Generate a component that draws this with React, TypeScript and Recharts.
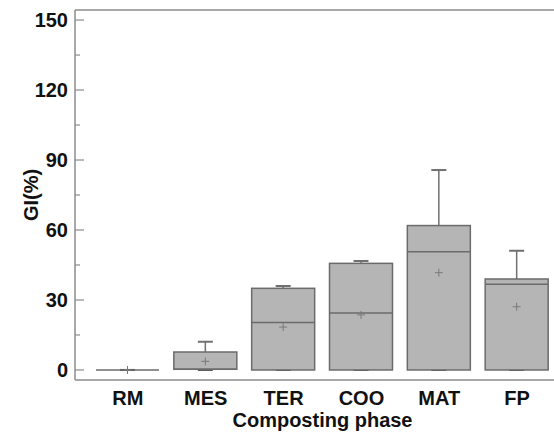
import { Bar, ComposedChart, ReferenceLine, XAxis, YAxis } from "recharts";

const phases = ["RM", "MES", "TER", "COO", "MAT", "FP"];
const mins = [0, 0, 0, 0, 0, 0];
const q1s = [0, 0.3, 0, 0, 0, 0];
const medians = [0, 0.3, 20.4, 24.4, 50.7, 36.7];
const q3s = [0, 7.7, 35, 45.7, 61.9, 39];
const maxs = [0, 12.1, 36, 46.7, 85.7, 51.1];
const means = [0, 3.7, 18.4, 23.6, 41.7, 27.1];

const yTicks = [0, 15, 30, 45, 60, 75, 90, 105, 120, 135, 150];
const yDomain = [-4.3, 154.3];

const data = phases.map((phase, i) => ({
  phase,
  min: mins[i],
  q1: q1s[i],
  median: medians[i],
  q3: q3s[i],
  max: maxs[i],
  mean: means[i],
}));

const axisColor = "#8c8c8c";
const boxFill = "#b5b5b5";
const boxStroke = "#6b6b6b";
const font = "Liberation Sans, Arial, sans-serif";

function BoxShape(props: any) {
  const { x, y, width, height, payload } = props;
  const top = Math.min(y, y + height);
  const h = Math.abs(height);
  const lo = payload.min;
  const hi = payload.max;
  // map a value to pixels from the bar's own range (library scale)
  const pos = (v: number) => (hi === lo ? top : top + ((hi - v) / (hi - lo)) * h);
  const cx = x + width / 2;
  const cap = 7.5;
  const yMax = pos(payload.max);
  const yMin = pos(payload.min);
  const yQ1 = pos(payload.q1);
  const yQ3 = pos(payload.q3);
  const yMed = pos(payload.median);
  const yMean = pos(payload.mean);
  return (
    <g>
      <line x1={cx} x2={cx} y1={yMax} y2={yQ3} stroke="#707070" strokeWidth={1.5} />
      <line x1={cx - cap} x2={cx + cap} y1={yMax} y2={yMax} stroke="#707070" strokeWidth={2} />
      <line x1={cx} x2={cx} y1={yQ1} y2={yMin} stroke="#707070" strokeWidth={1.5} />
      <line x1={cx - cap} x2={cx + cap} y1={yMin} y2={yMin} stroke="#555" strokeWidth={2} />
      <rect x={x} y={yQ3} width={width} height={yQ1 - yQ3} fill={boxFill} stroke={boxStroke} strokeWidth={1.5} />
      <line x1={x} x2={x + width} y1={yMed} y2={yMed} stroke={boxStroke} strokeWidth={1.5} />
      <line x1={cx - 4} x2={cx + 4} y1={yMean} y2={yMean} stroke="#7a7a7a" strokeWidth={1} />
      <line x1={cx} x2={cx} y1={yMean - 4} y2={yMean + 4} stroke="#7a7a7a" strokeWidth={1} />
    </g>
  );
}

function YTick(props: any) {
  const { x, y, payload } = props;
  const major = payload.value % 30 === 0;
  return (
    <g>
      <line x1={x} x2={x + (major ? 9 : 5)} y1={y} y2={y} stroke={axisColor} strokeWidth={1.2} />
      {major && (
        <text x={x - 7} y={y} dy="0.35em" textAnchor="end" fontSize={20} fontWeight="bold" fill="#111" fontFamily={font}>
          {payload.value}
        </text>
      )}
    </g>
  );
}

function YLabel({ viewBox }: any) {
  const cy = viewBox.y + viewBox.height / 2;
  return (
    <text transform={`translate(37.5, ${cy}) rotate(-90)`} textAnchor="middle" fontSize={20} fontWeight="bold" fill="#111" fontFamily={font}>
      GI(%)
    </text>
  );
}

export default function App() {
  return (
    <div style={{ position: "absolute", left: 0, top: 0, width: 554, height: 440, overflow: "hidden", background: "#fff" }}>
      <ComposedChart width={570} height={440} data={data} margin={{ top: 10, right: 0, bottom: 0, left: 0 }}>
        <XAxis
          dataKey="phase"
          height={60}
          padding={{ left: 14, right: 14 }}
          tickLine={false}
          tickSize={0}
          tickMargin={11}
          axisLine={{ stroke: axisColor, strokeWidth: 1.5 }}
          tick={{ fill: "#111", fontSize: 20, fontWeight: "bold", fontFamily: font }}
          label={{ value: "Composting phase", position: "insideBottom", offset: 13, fill: "#111", fontSize: 20, fontWeight: "bold", fontFamily: font }}
        />
        <YAxis
          type="number"
          width={75}
          domain={yDomain}
          ticks={yTicks}
          interval={0}
          allowDataOverflow
          tickSize={0}
          tickMargin={0}
          tickLine={false}
          axisLine={{ stroke: axisColor, strokeWidth: 1.5 }}
          tick={<YTick />}
          label={<YLabel />}
        />
        <ReferenceLine y={yDomain[1]} stroke={axisColor} strokeWidth={1.5} />
        <Bar dataKey={(d: any) => [d.min, d.max]} barSize={63} shape={<BoxShape />} isAnimationActive={false} />
      </ComposedChart>
    </div>
  );
}
